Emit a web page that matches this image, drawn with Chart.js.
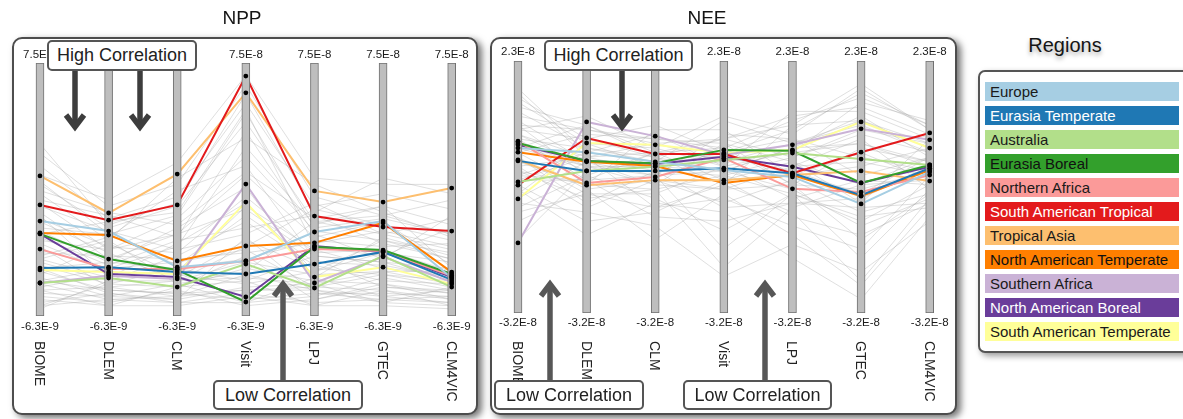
<!DOCTYPE html>
<html><head><meta charset="utf-8">
<script src="https://cdn.jsdelivr.net/npm/chart.js@4.4.1/dist/chart.umd.min.js"></script>
<style>
html,body{margin:0;padding:0;background:#fff;width:1183px;height:419px;overflow:hidden;font-family:'Liberation Sans',Arial,sans-serif;}
#stage{position:relative;width:1183px;height:419px;overflow:hidden;}
.panel{position:absolute;background:#fff;border:2px solid #4d4d4d;border-radius:10px;box-shadow:4px 3px 7px rgba(0,0,0,0.55);box-sizing:border-box;z-index:0;}
canvas{position:absolute;top:0;z-index:1;}
.title{position:absolute;font-size:19px;color:#151515;transform:translateX(-50%);z-index:2;white-space:nowrap;line-height:22px;}
.note{position:absolute;background:#fff;border:2.5px solid #555;border-radius:5px;box-sizing:border-box;font-size:18px;color:#222;z-index:4;display:flex;align-items:center;justify-content:center;white-space:nowrap;}
.axname{position:absolute;writing-mode:vertical-rl;font-size:14px;color:#222;transform:translateX(-50%);z-index:2;line-height:16px;white-space:nowrap;}
#arrows{position:absolute;left:0;top:0;z-index:3;pointer-events:none;}
.legbox{position:absolute;left:978px;top:70px;width:214px;height:283px;border:2px solid #555;border-radius:7px;box-sizing:border-box;background:#fff;box-shadow:3px 3px 6px rgba(0,0,0,0.4);z-index:1;}
.legitem{position:absolute;left:5px;width:194px;height:19px;line-height:19px;font-size:15px;padding-left:5px;box-sizing:border-box;white-space:nowrap;}
.legtitle{position:absolute;left:1065px;top:34px;transform:translateX(-50%);font-size:20px;color:#151515;text-shadow:0 3px 4px rgba(0,0,0,0.35);z-index:2;}
</style>
</head>
<body>
<div id="stage">
  <div class="panel" style="left:12px;top:37px;width:466px;height:378px;"></div>
  <div class="panel" style="left:490px;top:37px;width:467px;height:378px;"></div>
  <div class="title" style="left:242px;top:7px;">NPP</div>
  <div class="title" style="left:707px;top:7px;">NEE</div>
  <canvas id="npp" width="490" height="419" style="left:0px;width:490px;height:419px;"></canvas>
  <canvas id="nee" width="490" height="419" style="left:478px;width:490px;height:419px;"></canvas>
  <svg id="arrows" width="1183" height="419"></svg>
  <div class="note" style="left:47px;top:40px;width:150px;height:31px;">High Correlation</div>
  <div class="note" style="left:544px;top:40px;width:149px;height:31px;">High Correlation</div>
  <div class="note" style="left:213px;top:380px;width:150px;height:30px;">Low Correlation</div>
  <div class="note" style="left:494px;top:380px;width:150px;height:30px;">Low Correlation</div>
  <div class="note" style="left:683px;top:380px;width:149px;height:30px;">Low Correlation</div>
  <div class="legtitle">Regions</div>
  <div class="legbox" id="legbox"></div>
</div>
<script>
// ---- axes / tick labels ----
const axisNames = ['BIOME', 'DLEM', 'CLM', 'Visit', 'LPJ', 'GTEC', 'CLM4VIC'];
const axisIdx = [0, 1, 2, 3, 4, 5, 6];
const nppTopLabels = ['7.5E-8', '7.5E-8', '7.5E-8', '7.5E-8', '7.5E-8', '7.5E-8', '7.5E-8'];
const nppBottomLabels = ['-6.3E-9', '-6.3E-9', '-6.3E-9', '-6.3E-9', '-6.3E-9', '-6.3E-9', '-6.3E-9'];
const neeTopLabels = ['2.3E-8', '2.3E-8', '2.3E-8', '2.3E-8', '2.3E-8', '2.3E-8', '2.3E-8'];
const neeBottomLabels = ['-3.2E-8', '-3.2E-8', '-3.2E-8', '-3.2E-8', '-3.2E-8', '-3.2E-8', '-3.2E-8'];
// all values below are in units of 1e-8
const nppRange = [-0.63, 7.5];
const neeRange = [-3.2, 2.3];

// ---- regions ----
const regions = ['Europe', 'Eurasia Temperate', 'Australia', 'Eurasia Boreal', 'Northern Africa',
  'South American Tropical', 'Tropical Asia', 'North American Temperate', 'Southern Africa',
  'North American Boreal', 'South American Temperate'];
const regionColors = ['#a6cee3', '#1f78b4', '#b2df8a', '#33a02c', '#fb9a99', '#e31a1c',
  '#fdbf6f', '#ff7f00', '#cab2d6', '#6a3d9a', '#ffff99'];
const regionTextColors = ['#1a1a1a', '#ffffff', '#1a1a1a', '#111111', '#1a1a1a', '#ffffff',
  '#1a1a1a', '#111111', '#1a1a1a', '#ffffff', '#1a1a1a'];

// ---- NPP values per region (BIOME, DLEM, CLM, Visit, LPJ, GTEC, CLM4VIC) ----
const nppEurope                 = [2.42, 2.10, 0.94, 1.14, 2.07, 2.42, 0.59];
const nppEurasiaTemperate       = [0.91, 0.94, 0.78, 0.72, 1.04, 1.43, 0.53];
const nppAustralia              = [0.43, 0.59, 0.30, 1.04, 0.27, 1.30, 0.30];
const nppEurasiaBoreal          = [2.01, 1.20, 0.85, -0.18, 1.59, 1.49, 0.72];
const nppNorthernAfrica         = [1.52, 0.88, 0.88, 1.14, 1.52, 1.46, 0.66];
const nppSouthAmericanTropical  = [2.94, 2.45, 2.94, 7.08, 2.58, 2.23, 2.10];
const nppTropicalAsia           = [3.87, 2.68, 3.93, 6.54, 3.39, 3.03, 3.48];
const nppNorthAmericanTemperate = [2.04, 1.97, 1.14, 1.62, 1.72, 2.36, 0.78];
const nppSouthernAfrica         = [0.43, 0.66, 0.56, 3.61, 0.43, 1.27, 0.46];
const nppNorthAmericanBoreal    = [2.01, 0.72, 0.62, -0.02, 1.62, 1.43, 0.62];
const nppSouthAmericanTemperate = [0.85, 0.78, 0.72, 3.03, 0.62, 0.94, 0.40];

// ---- NEE values per region ----
const neeEurope                 = [0.40, 0.31, 0.10, -0.08, -0.23, -0.82, -0.12];
const neeEurasiaTemperate       = [0.12, -0.10, -0.10, -0.04, -0.15, -0.63, -0.04];
const neeAustralia              = [-0.34, -0.10, -0.01, 0.14, 0.29, 0.16, 0.03];
const neeEurasiaBoreal          = [0.51, 0.12, 0.07, 0.36, 0.34, -0.36, 0.03];
const neeNorthernAfrica         = [0.55, -0.36, -0.23, 0.18, -0.49, -0.56, -0.19];
const neeSouthAmericanTropical  = [-0.41, 0.62, 0.27, 0.27, -0.15, 0.31, 0.73];
const neeTropicalAsia           = [0.14, -0.41, -0.30, -0.30, -0.19, -0.10, -0.32];
const neeNorthAmericanTemperate = [0.31, 0.10, 0.01, -0.36, -0.19, -0.65, -0.08];
const neeSouthernAfrica         = [-1.67, 0.97, 0.66, 0.25, 0.47, 0.82, 0.58];
const neeNorthAmericanBoreal    = [0.47, 0.12, 0.05, 0.21, -0.01, -0.36, -0.01];
const neeSouthAmericanTemperate = [-0.71, 0.51, 0.47, 0.29, 0.36, 0.97, 0.40];

// ---- background (grey) sample lines ----
const nppBackground = [
  [4.6, 2.9, 3.6, 6.8, 3.2, 2.6, 3.1], [4.2, 2.5, 3.2, 6.2, 2.9, 3.3, 2.8],
  [3.6, 2.2, 2.9, 5.6, 2.4, 2.0, 2.5], [3.3, 1.8, 3.8, 5.1, 3.6, 2.7, 1.9],
  [3.0, 1.5, 2.5, 4.5, 2.1, 1.8, 1.4], [2.7, 1.2, 2.0, 3.9, 1.9, 2.4, 1.0],
  [2.5, 1.6, 1.4, 3.2, 1.4, 1.5, 0.8], [2.2, 2.0, 1.0, 2.6, 1.1, 1.0, 0.6],
  [1.9, 1.0, 1.8, 2.2, 2.6, 1.7, 1.2], [1.7, 0.8, 0.6, 1.8, 0.9, 0.7, 0.3],
  [1.4, 1.3, 1.2, 1.4, 1.7, 2.1, 1.6], [1.2, 0.6, 0.3, 0.9, 0.5, 0.4, 0.1],
  [1.0, 0.4, 0.9, 0.5, 1.3, 1.1, 0.5], [0.8, 0.2, 0.1, 0.2, 0.3, 0.2, -0.1],
  [0.6, 0.0, 0.4, -0.2, 0.0, 0.6, 0.2], [0.4, -0.1, -0.2, 0.1, -0.2, -0.1, 0.0],
  [0.2, 0.3, 0.0, 0.7, 0.2, 0.0, -0.2], [0.0, -0.2, 0.2, -0.3, -0.1, 0.3, 0.1],
  [-0.2, 0.1, -0.1, 0.3, 0.4, -0.2, -0.3], [-0.4, 0.5, 0.5, 1.1, 0.7, 0.8, 0.4],
  [3.9, 3.1, 4.3, 7.1, 3.8, 3.6, 3.6], [2.0, 2.4, 2.7, 6.0, 1.6, 1.3, 2.2],
  [1.5, 0.9, 1.6, 4.8, 2.3, 2.9, 0.9], [0.9, 1.1, 2.2, 3.5, 0.6, 1.9, 1.3],
  [0.3, 0.7, 0.8, 2.9, 1.5, 0.9, 0.7], [-0.1, -0.3, -0.3, 0.0, -0.3, -0.3, -0.4],
  [0.5, 0.2, 0.1, -0.1, 0.1, 0.1, 0.0], [2.4, 1.4, 0.5, 1.6, 2.8, 2.3, 1.8],
  [1.1, 0.5, 1.3, 2.4, 1.0, 0.5, 0.4], [0.7, 1.7, 0.7, 0.4, 0.8, 1.4, 1.1],
  [3.1, 2.6, 1.9, 5.3, 2.0, 1.2, 2.6], [0.1, 0.0, -0.1, 1.9, 0.1, -0.1, -0.2],
  [4.9, 2.3, 3.0, 6.5, 2.7, 3.8, 3.3], [1.3, 1.9, 3.4, 4.2, 1.2, 0.3, 0.2],
  [-0.3, 0.4, 0.3, 1.3, -0.1, 0.4, -0.1],
  [3.4, 2.7, 2.3, 4.0, 2.5, 2.9, 2.3], [2.9, 2.1, 1.5, 2.0, 3.0, 2.0, 1.5],
  [2.1, 1.1, 0.9, 1.2, 1.8, 1.6, 1.7], [1.6, 0.3, 0.5, 0.6, 0.4, 0.8, 0.8],
  [0.9, 0.1, -0.2, -0.2, 0.6, 0.0, 0.2], [0.2, -0.3, 0.3, 0.5, -0.3, 0.2, -0.3],
  [-0.3, -0.1, 0.0, 0.2, 0.2, -0.2, 0.3], [3.7, 2.0, 2.6, 5.9, 2.2, 2.5, 2.0],
  [1.8, 1.5, 2.0, 2.8, 1.3, 1.1, 0.9], [0.5, 0.9, 1.1, 1.5, 0.3, 0.7, 0.5],
  [2.6, 0.6, 1.7, 3.0, 0.8, 1.8, 1.2], [1.2, 1.8, 0.4, 0.8, 2.4, 2.6, 2.0]
];
const neeBackground = [
  [1.5, 0.6, 0.9, 0.3, 0.8, 1.6, 0.9], [1.2, 0.4, 0.2, 0.6, 1.1, 1.3, 0.7],
  [0.9, 0.8, 0.5, 0.1, 0.5, 1.0, 0.5], [0.7, 0.2, -0.1, -0.2, 0.2, 0.7, 0.3],
  [0.6, -0.3, 0.3, 0.4, -0.4, 0.4, 0.1], [0.4, 0.0, -0.4, -0.5, 0.0, 0.1, -0.2],
  [0.2, -0.6, -0.6, 0.0, -0.7, -0.3, -0.4], [0.0, -0.9, -0.3, -0.8, -0.3, -1.0, -0.6],
  [-0.2, 0.3, 0.1, 0.2, -0.1, -0.6, 0.2], [-0.4, -1.2, -1.0, -0.3, -1.1, -1.5, -0.8],
  [-0.6, 0.5, 0.0, -0.1, 0.4, 0.5, 0.0], [-0.9, -0.2, -0.7, -1.4, -0.6, -2.0, -0.5],
  [-1.2, -0.5, -1.6, -0.6, -1.5, -2.6, -0.9], [1.0, 0.1, -0.2, 0.7, 0.6, 0.2, -0.1],
  [0.3, 0.7, 0.6, 0.5, 0.1, -0.8, 0.6], [-0.1, -0.7, -0.5, -2.2, -0.9, -0.4, -0.3],
  [0.5, 0.0, -0.2, -0.1, -0.5, -1.3, -0.7], [0.8, 1.1, 0.4, 0.0, 0.3, 1.4, 1.0],
  [-0.5, -1.5, -0.8, -1.0, -2.0, -2.9, -1.1], [0.1, -0.4, 0.8, 0.8, -0.2, 0.0, 0.4],
  [1.3, 0.9, 0.2, -0.4, 0.9, 1.8, 0.8], [-0.3, 0.2, -0.9, -0.7, -1.3, -1.8, -0.2],
  [-1.6, -0.1, 0.0, 0.3, 0.6, -0.2, 0.2], [0.9, -0.2, 0.3, 0.2, 0.0, 0.6, -0.5],
  [-0.8, -1.0, -1.3, -2.4, -1.7, -2.3, -1.2], [0.6, 0.4, 0.1, 1.0, 0.5, 0.9, 0.3],
  [-0.1, -0.4, -0.5, -0.2, -0.6, -1.1, -0.9], [1.7, 0.3, 0.7, 0.0, 1.2, 1.2, 0.6],
  [0.2, -0.8, -0.1, -0.9, -0.8, -0.7, 0.0], [-0.7, 0.1, -0.4, 0.5, -0.4, -1.6, -0.6],
  [1.4, 0.5, 0.4, 1.1, 0.7, 1.7, 0.8], [0.8, 0.6, 0.2, -0.1, 0.4, 1.1, 0.2],
  [0.5, -0.1, 0.1, 0.3, -0.2, 0.3, -0.3], [0.3, -0.5, -0.3, -0.5, -0.4, -0.5, -0.1],
  [0.0, 0.2, 0.5, 0.6, 0.2, 0.8, 0.5], [-0.3, -0.3, -0.2, -1.8, -0.6, -1.2, -0.4],
  [1.1, 0.8, 0.6, 0.4, 1.0, 1.5, 0.9], [-1.0, -0.6, -0.9, -0.4, -1.0, -2.5, -0.7],
  [0.7, 0.0, 0.0, 0.1, 0.3, 0.5, 0.1], [-0.2, -0.3, -1.1, -1.2, -0.8, -0.9, -0.8],
  [1.6, 0.2, 0.3, 0.6, 0.9, 1.0, 0.4], [0.4, 0.9, 0.3, -0.3, 0.1, -0.4, 0.2]
];

const nppRegionValues = [nppEurope, nppEurasiaTemperate, nppAustralia, nppEurasiaBoreal,
  nppNorthernAfrica, nppSouthAmericanTropical, nppTropicalAsia, nppNorthAmericanTemperate,
  nppSouthernAfrica, nppNorthAmericanBoreal, nppSouthAmericanTemperate];
const neeRegionValues = [neeEurope, neeEurasiaTemperate, neeAustralia, neeEurasiaBoreal,
  neeNorthernAfrica, neeSouthAmericanTropical, neeTropicalAsia, neeNorthAmericanTemperate,
  neeSouthernAfrica, neeNorthAmericanBoreal, neeSouthAmericanTemperate];

const FONT = "'Liberation Sans', Arial, sans-serif";

function buildPanel(canvasId, canvasLeft, range, topLabels, bottomLabels, regionVals, background, pad, tickPadTop, tickPadBottom) {
  const toPts = arr => arr.map((v, i) => ({x: axisIdx[i], y: v}));
  const datasets = [];
  background.forEach(row => datasets.push({
    type: 'line', data: toPts(row), borderColor: 'rgba(165,165,165,0.36)', borderWidth: 1,
    pointRadius: 0, tension: 0, order: 5
  }));
  regionVals.forEach((row, r) => datasets.push({
    type: 'line', label: regions[r], data: toPts(row), borderColor: regionColors[r], borderWidth: 2,
    pointRadius: 0, tension: 0, order: 3
  }));
  datasets.push({
    type: 'bar', data: axisIdx.map(i => ({x: i, y: [range[0], range[1]]})),
    backgroundColor: '#bebebe', borderColor: '#707070', borderWidth: 1, borderSkipped: false,
    barThickness: 8, order: 2
  });
  const dots = [];
  regionVals.forEach(row => row.forEach((v, i) => dots.push({x: axisIdx[i], y: v})));
  datasets.push({
    type: 'line', data: dots, showLine: false, pointRadius: 2.4, pointBackgroundColor: '#000',
    pointBorderWidth: 0, order: 0
  });
  const fixTicks = s => { s.ticks = axisIdx.map(v => ({value: v})); };
  const chart = new Chart(document.getElementById(canvasId), {
    type: 'line',
    data: {datasets},
    options: {
      responsive: false, animation: false, devicePixelRatio: 1,
      layout: {padding: pad},
      plugins: {legend: {display: false}, tooltip: {enabled: false}},
      scales: {
        x: {type: 'linear', position: 'bottom', min: -0.5, max: 6.5, offset: false,
          grid: {display: false, drawTicks: false, offset: false}, border: {display: false},
          afterBuildTicks: fixTicks, afterFit: s => { s.height = 20; },
          ticks: {autoSkip: false, maxRotation: 0, minRotation: 0, padding: tickPadBottom,
            color: '#1a1a1a', font: {family: FONT, size: 11.5},
            callback: (v, i) => bottomLabels[i]}},
        x2: {type: 'linear', position: 'top', min: -0.5, max: 6.5, offset: false,
          grid: {display: false, drawTicks: false}, border: {display: false},
          afterBuildTicks: fixTicks, afterFit: s => { s.height = 24; },
          ticks: {autoSkip: false, maxRotation: 0, minRotation: 0, padding: tickPadTop,
            color: '#1a1a1a', font: {family: FONT, size: 11.5},
            callback: (v, i) => topLabels[i]}},
        y: {type: 'linear', display: false, min: range[0], max: range[1]}
      }
    }
  });
  const stage = document.getElementById('stage');
  axisIdx.forEach(i => {
    const d = document.createElement('div');
    d.className = 'axname';
    d.textContent = axisNames[i];
    d.style.left = (canvasLeft + chart.scales.x.getPixelForValue(i)) + 'px';
    d.style.top = '341px';
    stage.appendChild(d);
  });
  return chart;
}

// pad: chart area NPP top 63 / bottom 316, NEE top 61 / bottom 313
buildPanel('npp', 0, nppRange, nppTopLabels, nppBottomLabels, nppRegionValues, nppBackground,
  {left: 5.67, right: 3.67, top: 39, bottom: 83}, 1, 4);
buildPanel('nee', 478, neeRange, neeTopLabels, neeBottomLabels, neeRegionValues, neeBackground,
  {left: 5.67, right: 3.67, top: 37, bottom: 86}, 2, 3);

// legend
const legbox = document.getElementById('legbox');
regions.forEach((name, r) => {
  const d = document.createElement('div');
  d.className = 'legitem';
  d.style.top = (10 + 24 * r) + 'px';
  d.style.background = regionColors[r];
  d.style.color = regionTextColors[r];
  d.textContent = name;
  legbox.appendChild(d);
});

// annotation arrows
const svg = document.getElementById('arrows');
function arrow(cx, yFrom, yTip, color) {
  const dir = yTip > yFrom ? 1 : -1;
  const ns = 'http://www.w3.org/2000/svg';
  const shaft = document.createElementNS(ns, 'line');
  shaft.setAttribute('x1', cx); shaft.setAttribute('x2', cx);
  shaft.setAttribute('y1', yFrom); shaft.setAttribute('y2', yTip - dir * 4);
  shaft.setAttribute('stroke', color); shaft.setAttribute('stroke-width', 5.5);
  svg.appendChild(shaft);
  const head = document.createElementNS(ns, 'path');
  head.setAttribute('d', `M ${cx - 9} ${yTip - dir * 15} L ${cx} ${yTip - dir * 3} L ${cx + 9} ${yTip - dir * 15}`);
  head.setAttribute('stroke', color); head.setAttribute('stroke-width', 5.5);
  head.setAttribute('fill', 'none'); head.setAttribute('stroke-linejoin', 'miter');
  head.setAttribute('stroke-miterlimit', 10);
  svg.appendChild(head);
}
arrow(75, 70, 130, '#3d3d3d');
arrow(140, 70, 130, '#3d3d3d');
arrow(622, 70, 130, '#3d3d3d');
arrow(283, 382, 281, '#575757');
arrow(550, 382, 281, '#575757');
arrow(765, 382, 281, '#575757');
</script>
</body></html>
